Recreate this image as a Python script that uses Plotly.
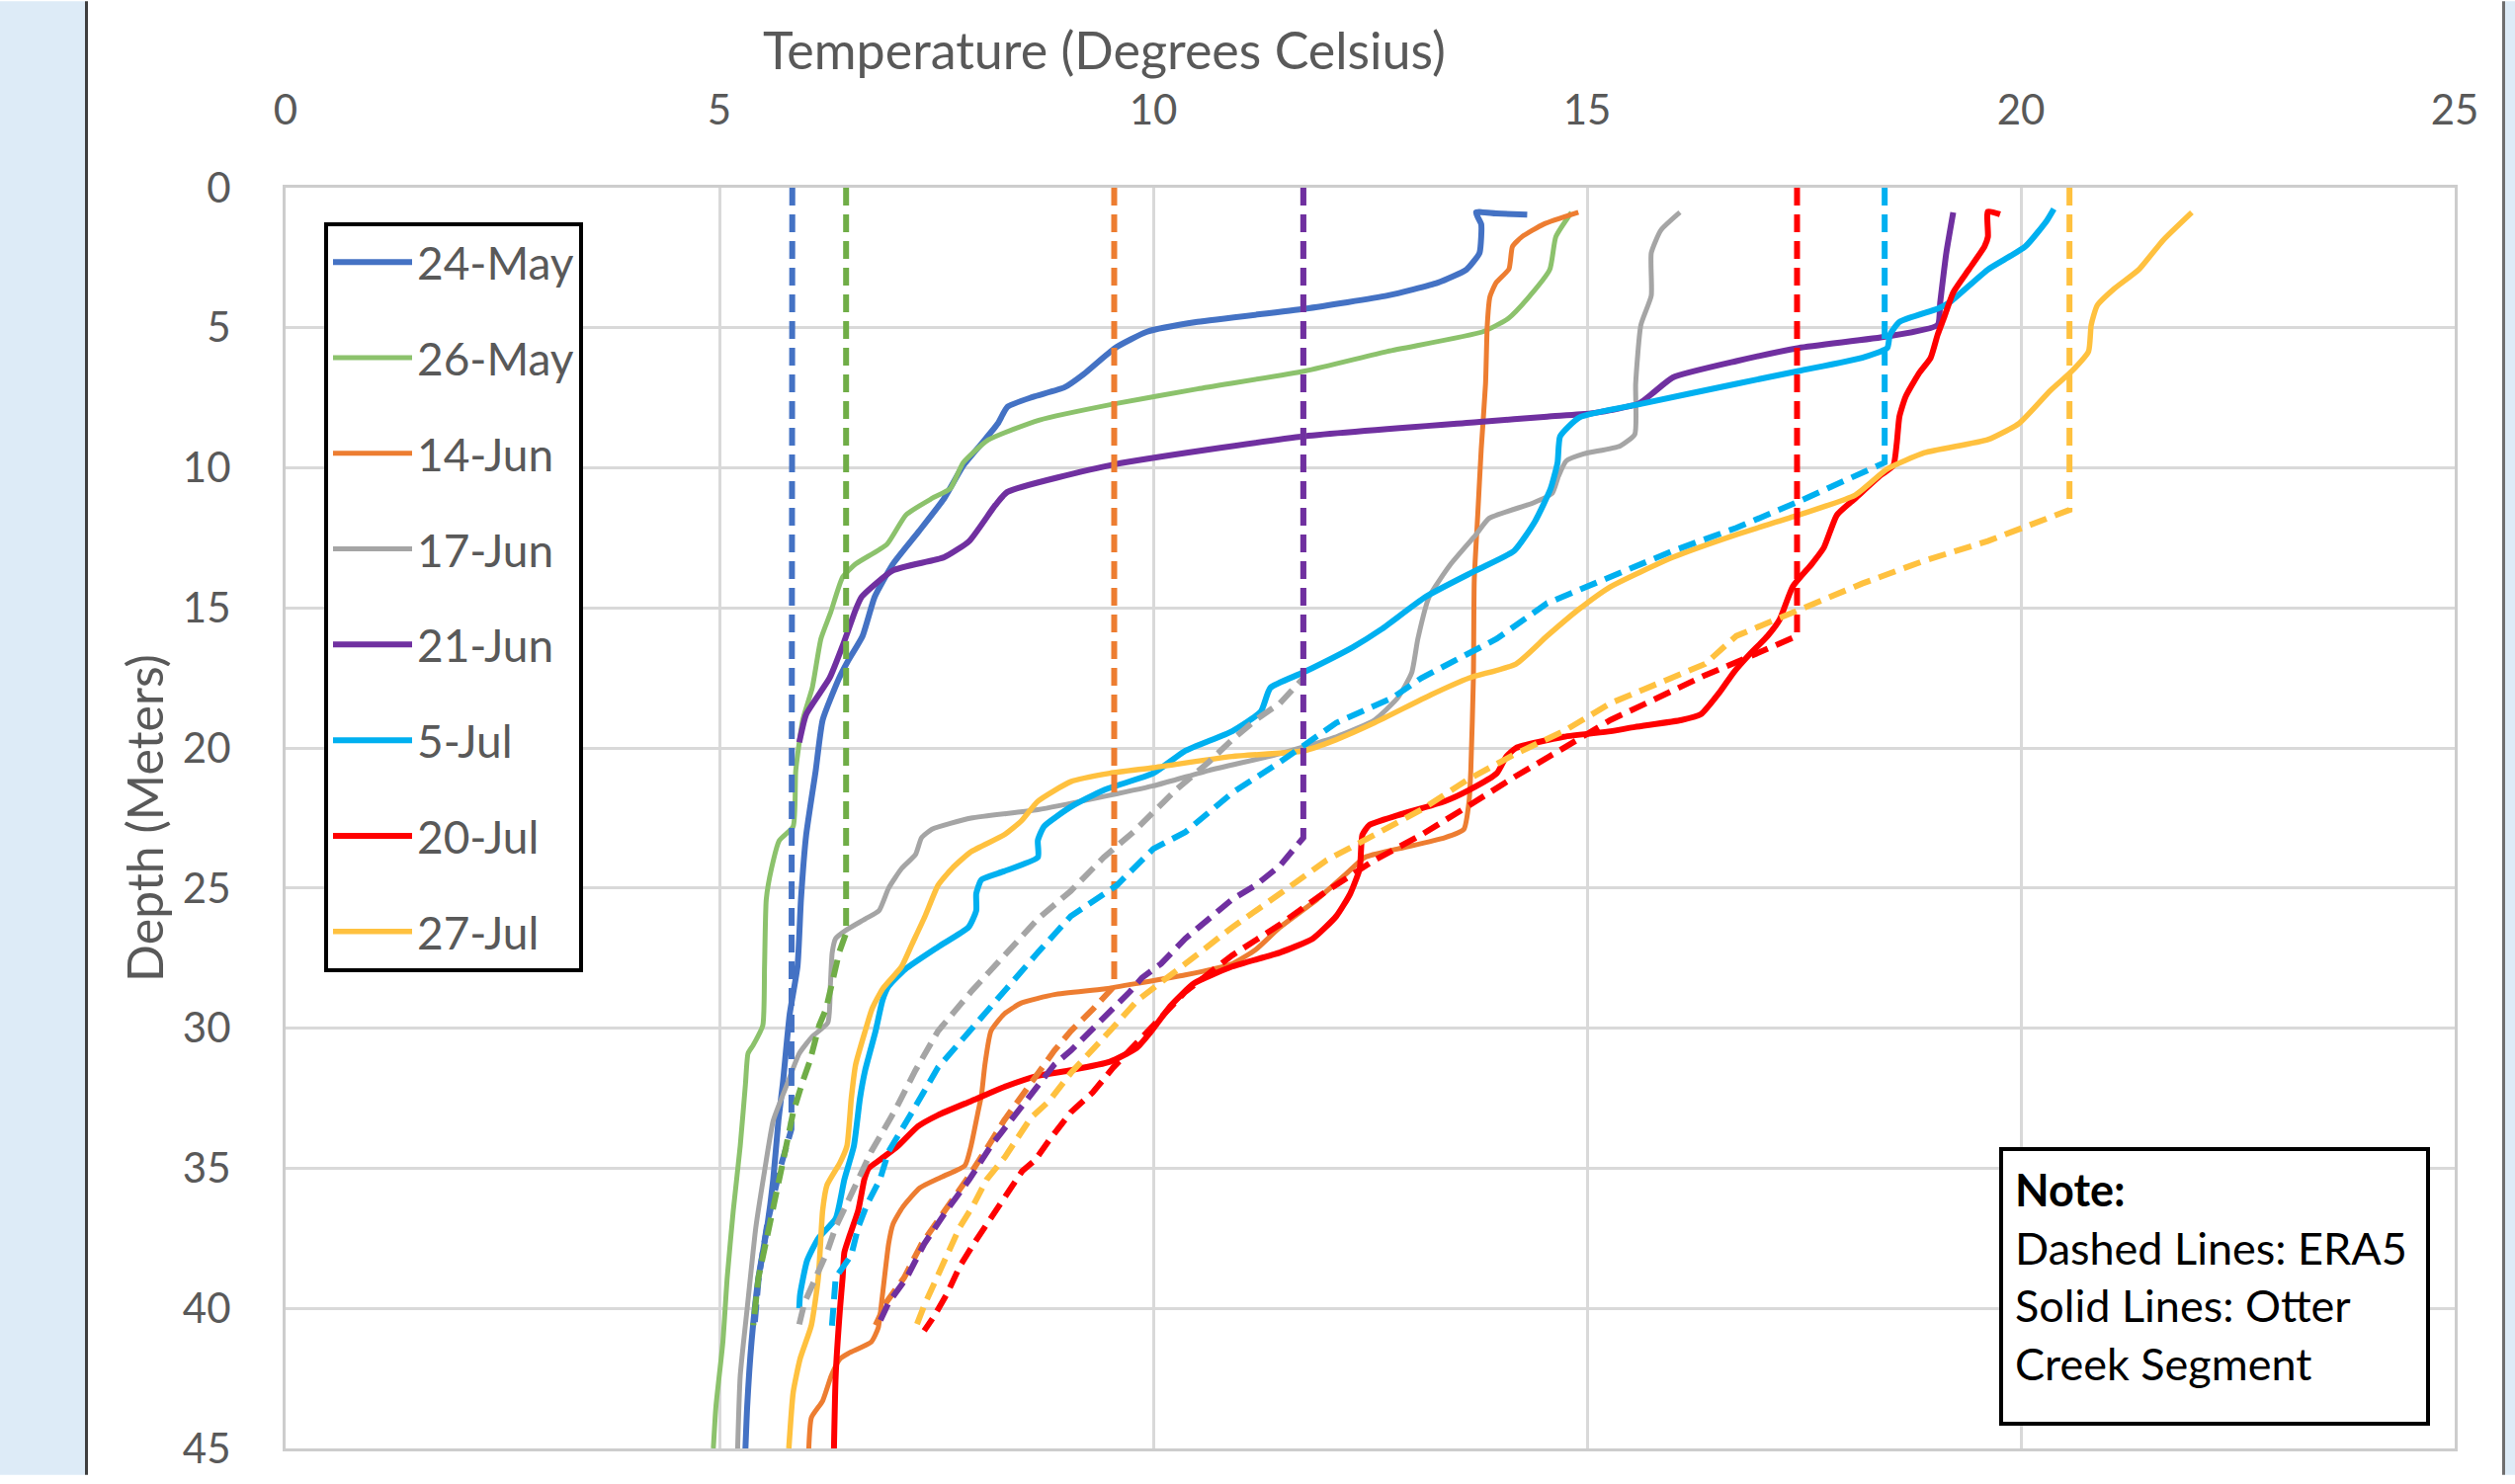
import plotly.graph_objects as go

# ---------------- data (Temperature degC, Depth m) ----------------
# Solid lines: Otter Creek Segment observations
may24_t = [14.31, 13.95, 13.72, 13.78, 13.78, 13.76, 13.61, 13.28, 12.7, 11.75, 10.51, 9.93, 9.56, 9.2, 8.98, 8.61, 8.32, 8.21, 8.03, 7.81, 7.59, 7.3, 7.0, 6.79, 6.65, 6.48, 6.38, 6.19, 6.11, 6.0, 5.94, 5.9, 5.81, 5.73, 5.68, 5.62, 5.55, 5.45, 5.37, 5.32, 5.3]
may24_d = [0.96, 0.92, 0.88, 1.3, 1.75, 2.33, 2.92, 3.39, 3.85, 4.32, 4.79, 5.14, 5.72, 6.65, 7.12, 7.47, 7.82, 8.41, 9.1, 9.92, 11.09, 12.26, 13.43, 14.6, 16.0, 16.9, 17.5, 19.0, 20.8, 23.1, 25.4, 27.8, 29.5, 32.0, 33.3, 35.4, 37.1, 38.9, 41.2, 43.5, 45.0]

may26_t = [14.82, 14.64, 14.57, 14.31, 14.09, 13.8, 12.7, 11.75, 10.51, 9.56, 8.69, 8.1, 7.81, 7.66, 7.45, 7.15, 6.93, 6.57, 6.42, 6.28, 6.17, 6.07, 5.96, 5.88, 5.85, 5.69, 5.6, 5.54, 5.52, 5.5, 5.39, 5.33, 5.3, 5.24, 5.16, 5.09, 5.04, 4.96, 4.93]
may26_d = [0.88, 1.75, 2.92, 3.97, 4.67, 5.14, 5.84, 6.54, 7.18, 7.71, 8.29, 9.0, 9.81, 10.74, 11.09, 11.68, 12.73, 13.43, 13.9, 15.18, 16.1, 17.85, 19.0, 20.8, 22.8, 23.3, 24.3, 25.4, 27.8, 29.9, 30.6, 30.9, 32.0, 34.2, 36.5, 38.9, 41.2, 43.5, 45.0]

jun14_t = [14.9, 14.5, 14.25, 14.14, 14.1, 13.95, 13.88, 13.85, 13.83, 13.78, 13.74, 13.7, 13.69, 13.66, 13.64, 13.58, 13.36, 12.82, 12.44, 12.22, 11.89, 11.46, 11.18, 10.91, 10.37, 9.82, 9.43, 8.86, 8.48, 8.28, 8.13, 8.06, 8.02, 7.98, 7.9, 7.83, 7.57, 7.31, 7.11, 7.0, 6.95, 6.88, 6.83, 6.75, 6.49, 6.39, 6.29, 6.19, 6.06, 6.03]
jun14_d = [0.88, 1.3, 1.75, 2.1, 2.9, 3.4, 3.9, 4.9, 7.0, 9.34, 11.68, 14.0, 17.5, 20.8, 21.9, 22.9, 23.2, 23.6, 23.9, 24.5, 25.4, 26.4, 27.2, 27.7, 28.1, 28.4, 28.6, 28.8, 29.1, 29.5, 30.1, 31.3, 32.4, 33.0, 34.2, 34.9, 35.3, 35.7, 36.4, 37.0, 37.7, 39.5, 40.7, 41.2, 41.6, 41.8, 42.4, 43.3, 43.9, 45.0]

jun17_t = [16.07, 15.85, 15.74, 15.74, 15.62, 15.56, 15.55, 15.38, 14.96, 14.76, 14.67, 14.6, 14.38, 13.87, 13.72, 13.43, 13.18, 13.05, 12.98, 12.82, 12.55, 12.11, 11.46, 10.64, 10.0, 8.67, 7.9, 7.45, 7.33, 7.26, 7.1, 6.95, 6.84, 6.68, 6.46, 6.34, 6.3, 6.28, 6.25, 6.07, 5.92, 5.78, 5.62, 5.52, 5.42, 5.32, 5.24, 5.21]
jun17_d = [0.88, 1.52, 2.33, 3.85, 4.9, 7.0, 8.8, 9.22, 9.5, 9.75, 10.3, 10.9, 11.25, 11.8, 12.38, 13.43, 14.6, 16.1, 17.3, 18.2, 19.0, 19.6, 20.2, 20.8, 21.35, 22.2, 22.5, 22.9, 23.2, 23.8, 24.3, 25.0, 25.8, 26.1, 26.5, 26.8, 27.3, 28.4, 29.8, 30.3, 30.9, 32.0, 33.3, 35.1, 37.1, 40.0, 42.4, 45.0]

jun21_t = [19.22, 19.14, 19.07, 19.04, 18.46, 17.44, 16.72, 15.99, 15.77, 15.6, 15.27, 15.04, 14.54, 13.8, 11.75, 9.56, 8.32, 8.18, 7.88, 7.59, 7.0, 6.64, 6.57, 6.42, 6.27, 6.0, 5.92]
jun21_d = [0.88, 2.33, 4.09, 4.9, 5.31, 5.72, 6.19, 6.77, 7.3, 7.7, 7.94, 8.06, 8.17, 8.35, 8.87, 9.87, 10.86, 11.33, 12.61, 13.19, 13.66, 14.6, 15.06, 16.35, 17.5, 18.8, 19.8]

jul5_t = [20.38, 20.3, 20.05, 19.62, 19.18, 19.04, 18.6, 18.49, 18.46, 18.17, 17.44, 16.72, 15.63, 14.91, 14.69, 14.66, 14.58, 14.4, 14.16, 13.72, 13.14, 12.63, 12.3, 11.73, 11.35, 11.24, 10.91, 10.37, 10.0, 9.43, 9.05, 8.74, 8.67, 8.67, 8.28, 8.02, 7.96, 7.96, 7.87, 7.52, 7.14, 6.95, 6.88, 6.8, 6.68, 6.62, 6.55, 6.44, 6.34, 6.14, 6.01, 5.93, 5.92]
jul5_d = [0.76, 1.17, 2.1, 2.92, 4.09, 4.32, 4.79, 5.25, 5.72, 6.07, 6.54, 7.0, 7.71, 8.2, 8.87, 9.81, 10.74, 11.91, 12.96, 13.66, 14.6, 15.76, 16.4, 17.3, 17.85, 18.7, 19.4, 20.1, 20.9, 21.5, 22.1, 22.8, 23.3, 23.9, 24.4, 24.7, 25.2, 25.8, 26.4, 27.1, 27.9, 28.5, 29.0, 30.1, 31.5, 32.5, 34.2, 35.4, 36.8, 37.5, 38.3, 39.5, 40.0]

jul20_t = [19.76, 19.62, 19.62, 19.58, 19.4, 19.22, 19.11, 19.04, 18.96, 18.82, 18.67, 18.6, 18.57, 18.53, 18.38, 18.09, 17.88, 17.73, 17.59, 17.37, 17.22, 17.08, 16.86, 16.69, 16.53, 16.31, 16.09, 15.55, 15.27, 14.73, 14.18, 14.07, 13.96, 13.64, 13.36, 12.82, 12.49, 12.41, 12.38, 12.27, 12.11, 11.84, 11.46, 10.91, 10.47, 10.2, 9.98, 9.81, 9.5, 9.05, 8.67, 8.28, 7.9, 7.52, 7.29, 7.06, 6.85, 6.72, 6.67, 6.6, 6.49, 6.44, 6.42, 6.39, 6.34, 6.32]
jul20_d = [0.95, 0.85, 1.75, 2.1, 2.92, 3.74, 4.67, 5.25, 6.07, 6.65, 7.47, 8.17, 9.1, 9.92, 10.27, 11.09, 11.68, 12.84, 13.43, 14.24, 15.41, 16.0, 16.7, 17.3, 18.0, 18.8, 19.0, 19.25, 19.4, 19.6, 20.0, 20.3, 20.9, 21.5, 21.9, 22.4, 22.75, 23.1, 24.3, 25.2, 26.0, 26.8, 27.3, 27.8, 28.4, 29.2, 30.1, 30.7, 31.2, 31.5, 31.7, 32.1, 32.6, 33.1, 33.5, 34.2, 34.7, 35.0, 35.4, 36.5, 37.5, 38.0, 38.9, 40.0, 42.4, 45.0]

jul27_t = [21.97, 21.64, 21.36, 21.07, 20.88, 20.81, 20.78, 20.59, 20.34, 19.98, 19.62, 18.89, 18.46, 18.09, 17.44, 16.72, 15.99, 15.27, 14.9, 14.54, 14.18, 13.64, 13.2, 12.55, 12.11, 11.73, 10.91, 10.0, 9.5, 9.05, 8.67, 8.48, 8.28, 7.9, 7.68, 7.52, 7.37, 7.22, 7.1, 6.88, 6.76, 6.68, 6.57, 6.52, 6.47, 6.39, 6.24, 6.19, 6.14, 6.06, 5.93, 5.85, 5.8]
jul27_d = [0.88, 1.87, 2.92, 3.62, 4.2, 4.9, 5.84, 6.54, 7.24, 8.41, 8.99, 9.46, 10.04, 10.97, 11.68, 12.38, 13.19, 14.24, 15.06, 16.0, 17.0, 17.5, 18.1, 19.1, 19.7, 20.1, 20.3, 20.7, 20.9, 21.2, 21.9, 22.6, 23.1, 23.7, 24.3, 24.9, 26.0, 27.0, 27.8, 28.6, 29.3, 30.1, 31.3, 32.5, 34.2, 34.8, 35.6, 36.5, 38.9, 40.6, 41.8, 43.0, 45.0]

# Dashed lines: ERA5
era_may24_t = [5.84, 5.84, 5.83, 5.7, 5.55, 5.45, 5.4]
era_may24_d = [0.0, 31.0, 33.6, 35.0, 37.0, 39.0, 40.8]

era_may26_t = [6.46, 6.46, 6.38, 6.32, 6.23, 6.15, 6.04, 5.96, 5.85, 5.73, 5.62, 5.52, 5.45, 5.39]
era_may26_d = [0.0, 26.6, 27.3, 28.1, 29.3, 29.9, 31.2, 31.9, 33.0, 34.8, 36.5, 38.0, 38.9, 40.6]

era_jun14_t = [9.55, 9.55, 9.31, 9.05, 8.86, 8.67, 8.48, 8.28, 8.1, 7.85, 7.6, 7.33, 7.13, 6.92, 6.8]
era_jun14_d = [0.0, 28.5, 29.3, 30.1, 30.8, 31.6, 32.4, 33.3, 34.2, 35.4, 36.5, 37.7, 38.9, 39.8, 40.6]

era_jun17_t = [11.73, 11.73, 11.46, 11.18, 10.91, 10.64, 10.26, 9.93, 9.77, 9.43, 9.05, 8.67, 8.28, 7.9, 7.52, 7.26, 7.03, 6.9, 6.75, 6.6, 6.47, 6.34, 6.24, 6.11, 5.98, 5.91]
era_jun17_d = [0.0, 17.5, 18.4, 19.0, 19.7, 20.5, 21.5, 22.5, 23.0, 23.9, 25.1, 26.1, 27.4, 28.7, 30.1, 31.5, 32.9, 33.6, 34.4, 35.4, 36.2, 37.1, 38.0, 38.9, 39.8, 40.7]

era_jun21_t = [11.73, 11.73, 11.46, 11.18, 10.91, 10.64, 10.37, 10.09, 9.87, 9.73, 9.5, 9.28, 9.05, 8.86, 8.63, 8.44, 8.13, 7.88, 7.62, 7.36, 7.16, 6.95, 6.83]
era_jun21_d = [0.0, 23.2, 24.2, 24.9, 25.4, 26.1, 26.8, 27.7, 28.2, 28.7, 29.4, 30.1, 30.8, 31.3, 32.2, 33.0, 34.2, 35.4, 36.5, 37.7, 38.9, 39.8, 40.6]

era_jul5_t = [18.43, 18.43, 17.44, 16.72, 15.99, 15.27, 14.54, 13.96, 13.64, 13.09, 12.76, 12.11, 11.46, 10.91, 10.37, 10.0, 9.58, 9.05, 8.67, 8.28, 7.9, 7.52, 7.22, 6.95, 6.85, 6.7, 6.6, 6.52, 6.34, 6.32, 6.29]
era_jul5_d = [0.0, 9.81, 11.2, 12.14, 12.96, 13.9, 14.83, 16.1, 16.6, 17.5, 18.2, 19.1, 20.5, 21.6, 23.0, 23.6, 24.9, 26.0, 27.3, 28.7, 30.1, 31.4, 33.0, 34.4, 35.4, 36.3, 37.1, 38.1, 38.9, 40.0, 40.9]

era_jul20_t = [17.42, 17.42, 16.9, 16.36, 15.82, 15.27, 14.73, 14.18, 13.64, 13.09, 12.55, 12.0, 11.46, 10.91, 10.37, 9.98, 9.54, 9.3, 9.05, 8.8, 8.64, 8.49, 8.29, 8.13, 7.93, 7.77, 7.62, 7.47, 7.36]
era_jul20_d = [0.0, 16.0, 16.7, 17.4, 18.2, 19.0, 20.0, 21.0, 22.05, 23.1, 24.0, 25.1, 26.3, 27.4, 28.7, 30.0, 31.4, 32.3, 33.0, 34.0, 34.7, 35.1, 36.0, 36.8, 37.7, 38.5, 39.5, 40.3, 40.8]

era_jul27_t = [20.56, 20.56, 19.62, 18.89, 18.17, 17.44, 16.72, 16.36, 15.82, 15.27, 14.73, 14.18, 13.64, 13.09, 12.55, 12.0, 11.46, 10.91, 10.37, 9.82, 9.5, 9.28, 9.05, 8.8, 8.59, 8.44, 8.29, 8.08, 7.93, 7.77, 7.62, 7.49, 7.36, 7.26]
era_jul27_d = [0.0, 11.5, 12.61, 13.31, 14.13, 15.06, 16.0, 17.0, 17.7, 18.4, 19.4, 20.2, 21.1, 22.2, 23.1, 24.0, 25.2, 26.4, 27.7, 29.0, 30.1, 30.8, 31.6, 32.6, 33.2, 33.9, 34.6, 35.4, 36.3, 37.1, 38.1, 39.0, 39.9, 40.7]

series_names = ["24-May", "26-May", "14-Jun", "17-Jun", "21-Jun", "5-Jul", "20-Jul", "27-Jul"]
x_ticks = [0, 5, 10, 15, 20, 25]
y_ticks = [0, 5, 10, 15, 20, 25, 30, 35, 40, 45]

# ---------------- styling ----------------
solid_colors = ["#4472C4", "#8CC26C", "#ED7D31", "#A5A5A5", "#7030A0", "#00B0F0", "#FF0000", "#FFC13F"]
dash_colors = ["#4472C4", "#70AD47", "#ED7D31", "#A5A5A5", "#7030A0", "#00B0F0", "#FF0000", "#FFC13F"]
solid_widths = [6, 5, 5, 5, 6, 6, 6, 5.5]

solids = [(may24_t, may24_d), (may26_t, may26_d), (jun14_t, jun14_d), (jun17_t, jun17_d),
          (jun21_t, jun21_d), (jul5_t, jul5_d), (jul20_t, jul20_d), (jul27_t, jul27_d)]
dashes = [(era_may24_t, era_may24_d), (era_may26_t, era_may26_d), (era_jun14_t, era_jun14_d),
          (era_jun17_t, era_jun17_d), (era_jun21_t, era_jun21_d), (era_jul5_t, era_jul5_d),
          (era_jul20_t, era_jul20_d), (era_jul27_t, era_jul27_d)]

FONT = "Lato, Carlito, Calibri, sans-serif"
TXT = "#595959"

fig = go.Figure()

for i, (t, d) in enumerate(solids):
    fig.add_trace(go.Scatter(
        x=t, y=d, mode="lines", name=series_names[i],
        legendgroup=series_names[i],
        line=dict(color=solid_colors[i], width=solid_widths[i], shape="spline", smoothing=0.5),
        showlegend=True))

for i, (t, d) in enumerate(dashes):
    fig.add_trace(go.Scatter(
        x=t, y=d, mode="lines", name=series_names[i] + " ERA5",
        line=dict(color=dash_colors[i], width=6, dash="18px,9px", shape="linear"),
        showlegend=False))

W, H = 2545, 1502
L, R, T, B = 289, 61, 190, 27
pw, ph = W - L - R, H - T - B


def px(xp):
    return (xp - L) / pw


def py(yp):
    return (H - B - yp) / ph


fig.update_layout(
    width=W, height=H, autosize=False,
    margin=dict(l=L, r=R, t=T, b=B, pad=0),
    paper_bgcolor="white", plot_bgcolor="white",
    font=dict(family=FONT, color=TXT),
    showlegend=True,
    legend=dict(
        x=px(328), y=py(225), xanchor="left", yanchor="top",
        bordercolor="black", borderwidth=4, bgcolor="white",
        font=dict(family=FONT, size=46, color=TXT),
        tracegroupgap=34, itemwidth=80, traceorder="grouped",
        entrywidth=220, entrywidthmode="pixels",
        itemclick=False, itemdoubleclick=False,
    ),
    xaxis=dict(
        side="top", range=[0, 25], tickmode="array", tickvals=x_ticks,
        showgrid=True, gridcolor="#D9D9D9", gridwidth=3,
        showline=True, linecolor="#CDCDCD", linewidth=3, mirror=True,
        zeroline=False, ticks="", ticklabelstandoff=44,
        tickfont=dict(family=FONT, size=42, color=TXT),
    ),
    yaxis=dict(
        range=[45, 0], tickmode="array", tickvals=y_ticks,
        showgrid=True, gridcolor="#D9D9D9", gridwidth=3,
        showline=True, linecolor="#CDCDCD", linewidth=3, mirror=True,
        zeroline=False, ticks="", ticklabelstandoff=44,
        tickfont=dict(family=FONT, size=42, color=TXT),
        title=dict(text="Depth (Meters)", font=dict(family=FONT, size=50, color=TXT), standoff=4),
    ),
)

# x axis title (positioned left of centre as in the original)
fig.add_annotation(
    text="Temperature (Degrees Celsius)", xref="paper", yref="paper",
    x=px(1117), y=py(49), xanchor="center", yanchor="middle", showarrow=False,
    font=dict(family=FONT, size=52, color=TXT))

# Note box
fig.add_annotation(
    text="<b>Note:</b><br>Dashed Lines: ERA5<br>Solid Lines: Otter<br>Creek Segment",
    xref="paper", yref="paper", x=px(2023), y=py(1168), xanchor="left", yanchor="top",
    showarrow=False, align="left", valign="top",
    width=404, height=250, borderpad=12,
    bordercolor="black", borderwidth=4, bgcolor="white",
    font=dict(family=FONT, size=45, color="black"))

# window frame decorations (left / right edges of the screenshot)
frame = [
    (0, 86, "#DDEBF7"), (86, 89, "#3F3F3F"),
    (2532, 2535, "#6F6F6F"), (2535, W, "#DDEBF7"),
]
for x0, x1, c in frame:
    fig.add_shape(type="rect", xref="paper", yref="paper",
                  x0=px(x0), x1=px(x1), y0=py(H), y1=py(0),
                  fillcolor=c, line=dict(width=0), layer="above")

fig.write_html("out.html")
